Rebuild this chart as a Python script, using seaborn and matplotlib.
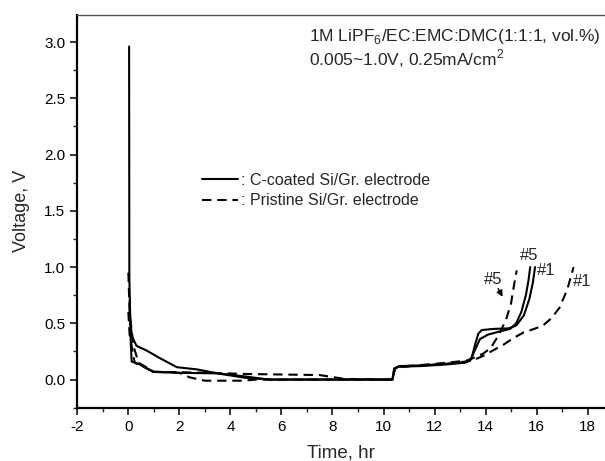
import matplotlib
matplotlib.use("Agg")
import matplotlib.pyplot as plt
import seaborn as sns
import pandas as pd
from matplotlib.lines import Line2D
from matplotlib.ticker import MultipleLocator

# ---- data ----
coated1_t = [0.03, 0.04, 0.08, 0.15, 0.32, 0.7, 1.24, 1.9, 2.7, 3.5, 4.6, 5.6, 10.35, 10.42, 10.6,
             11.5, 12.5, 13.2, 13.45, 13.6, 13.72, 13.85, 14.3, 14.9, 15.2, 15.5, 15.72, 15.85, 15.94]
coated1_v = [2.96, 0.9, 0.5, 0.38, 0.30, 0.26, 0.19, 0.11, 0.09, 0.055, 0.015, 0.0, 0.0, 0.09, 0.12,
             0.125, 0.14, 0.155, 0.19, 0.32, 0.41, 0.44, 0.45, 0.455, 0.48, 0.57, 0.72, 0.86, 1.0]

coated5_t = [0.05, 0.1, 0.13, 0.4, 0.97, 2.0, 3.5, 4.5, 5.5, 10.35, 10.42, 10.6, 11.5, 12.5, 13.2,
             13.4, 13.52, 13.78, 14.1, 14.6, 14.96, 15.2, 15.4, 15.58, 15.68, 15.75]
coated5_v = [0.7, 0.3, 0.16, 0.14, 0.068, 0.06, 0.055, 0.03, 0.0, 0.0, 0.1, 0.115, 0.12, 0.135, 0.15,
             0.17, 0.23, 0.36, 0.40, 0.43, 0.45, 0.5, 0.6, 0.75, 0.88, 1.0]

pristine1_t = [0.0, 0.05, 0.2, 0.4, 1.0, 2.0, 3.3, 4.5, 6.0, 7.5, 8.5, 10.35, 10.45, 10.6, 11.5, 12.5,
               13.2, 13.5, 13.9, 14.3, 14.7, 15.1, 15.5, 15.9, 16.25, 16.6, 16.9, 17.2, 17.45]
pristine1_v = [0.95, 0.6, 0.3, 0.15, 0.07, 0.065, 0.06, 0.05, 0.045, 0.04, 0.005, 0.0, 0.1, 0.11, 0.125, 0.14,
               0.16, 0.17, 0.21, 0.26, 0.31, 0.37, 0.42, 0.45, 0.48, 0.55, 0.64, 0.8, 1.0]

pristine5_t = [0.0, 0.05, 0.25, 1.0, 2.0, 2.4, 3.0, 4.5, 5.0, 10.35, 10.45, 10.6, 11.5, 12.5, 13.3,
               13.6, 13.9, 14.2, 14.5, 14.8, 15.0, 15.1, 15.22]
pristine5_v = [0.6, 0.4, 0.15, 0.07, 0.06, 0.02, -0.01, -0.01, 0.0, 0.0, 0.1, 0.115, 0.13, 0.15, 0.17,
               0.2, 0.23, 0.28, 0.39, 0.53, 0.68, 0.82, 0.97]

x_ticks = [-2, 0, 2, 4, 6, 8, 10, 12, 14, 16, 18]
y_ticks = [0.0, 0.5, 1.0, 1.5, 2.0, 2.5, 3.0]

legend_labels = [": C-coated Si/Gr. electrode", ": Pristine Si/Gr. electrode"]
note_line1 = "1M LiPF$_6$/EC:EMC:DMC(1:1:1, vol.%)"
note_line2 = "0.005~1.0V, 0.25mA/cm$^2$"

# ---- style ----
sns.set_style("ticks")
plt.rcParams['font.family'] = ['Liberation Sans', 'DejaVu Sans']
plt.rcParams['axes.unicode_minus'] = False
plt.rcParams['mathtext.fontset'] = 'custom'
plt.rcParams['mathtext.rm'] = 'Liberation Sans'

fig = plt.figure(figsize=(6.05, 4.61), dpi=100)
ax = fig.add_axes([77.3 / 605, 53.3 / 461, 1 - 77.3 / 605, (407.7 - 15) / 461])

DASH = (0, (4.5, 2.8))
series = [
    (coated1_t, coated1_v, '-'),
    (coated5_t, coated5_v, '-'),
    (pristine1_t, pristine1_v, DASH),
    (pristine5_t, pristine5_v, DASH),
]
for t, v, ls in series:
    df = pd.DataFrame({"time": t, "voltage": v})
    sns.lineplot(data=df, x="time", y="voltage", sort=False, estimator=None,
                 color='black', linewidth=1.5, linestyle=ls, ax=ax)

ax.set_xlim(-2, 18.68)
ax.set_ylim(-0.25, 3.24)
ax.set_xticks(x_ticks)
ax.set_yticks(y_ticks)
ax.set_yticklabels([f"{y:.1f}" for y in y_ticks])
ax.xaxis.set_minor_locator(MultipleLocator(1))
ax.yaxis.set_minor_locator(MultipleLocator(0.25))
ax.tick_params(which='major', direction='out', length=5, width=1.1, labelsize=11, colors='black')
ax.tick_params(which='minor', direction='out', length=3, width=1.0)

for s in ['left', 'bottom']:
    ax.spines[s].set_linewidth(1.6)
    ax.spines[s].set_color('black')
ax.spines['right'].set_visible(False)
ax.spines['top'].set_visible(True)
ax.spines['top'].set_linewidth(1.0)
ax.spines['top'].set_color('#555555')

ax.set_xlabel("Time, hr", fontsize=13.5, labelpad=8)
ax.set_ylabel("Voltage, V", fontsize=13, labelpad=10)

# annotations
ax.text(7.08, 3.05, note_line1, fontsize=12.5, va='center', ha='left')
ax.text(7.08, 2.85, note_line2, fontsize=12.5, va='center', ha='left')

ax.text(15.7, 1.105, "#5", fontsize=12, ha='center', va='center')
ax.text(16.36, 0.972, "#1", fontsize=12, ha='center', va='center')
ax.text(14.3, 0.889, "#5", fontsize=12, ha='center', va='center')
ax.text(17.77, 0.868, "#1", fontsize=12, ha='center', va='center')
ax.annotate('', xy=(14.72, 0.714), xytext=(14.44, 0.83),
            arrowprops=dict(arrowstyle='-|>', color='black', lw=1.0, mutation_scale=9))

handles = [Line2D([], [], color='black', lw=1.5, linestyle='-'),
           Line2D([], [], color='black', lw=1.5, linestyle=DASH)]
ax.legend(handles, legend_labels, loc='center left',
          bbox_to_anchor=(201.7 / 605, 1 - 190.5 / 461), bbox_transform=fig.transFigure,
          frameon=False, fontsize=11.5, handlelength=2.3, handletextpad=0.15,
          labelspacing=0.35, borderpad=0, borderaxespad=0)

fig.savefig("out.png", dpi=100)
